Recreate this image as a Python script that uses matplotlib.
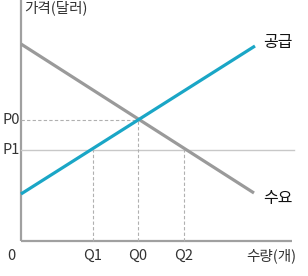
import matplotlib
matplotlib.use("Agg")
import matplotlib.pyplot as plt

plt.rcParams['font.family'] = ['Noto Sans CJK KR', 'DejaVu Sans']

# values in chart units (origin at the axes corner)
demand_q = [0, 233]
demand_p = [197, 48]
supply_q = [0, 234]
supply_p = [47, 195]
q_ticks = [72, 117, 163]
q_labels = ["Q1", "Q0", "Q2"]
p_levels = [121, 91]
p_labels = ["P0", "P1"]

AXIS_GRAY = "#a0a0a0"
LINE_GRAY = "#9a9a9a"
BLUE = "#1aa6c6"

fig = plt.figure(figsize=(3.08, 2.76), dpi=100)
ax = fig.add_axes([0, 0, 1, 1])
ax.set_xlim(-21, 287)
ax.set_ylim(-35, 241)
ax.axis("off")

# axes
ax.plot([0, 0], [0, 241], color=AXIS_GRAY, lw=1.6, solid_capstyle="butt")
ax.plot([0, 271], [0, 0], color=AXIS_GRAY, lw=1.6, solid_capstyle="butt")

# P1 solid light line across
ax.plot([0, 273], [p_levels[1], p_levels[1]], color="#c8c8c8", lw=1.0)
# P0 dashed line to equilibrium
ax.plot([0, q_ticks[1]], [p_levels[0], p_levels[0]], color="#b0b0b0", lw=0.8, ls=(0, (3, 2)))

# vertical guides
ax.plot([q_ticks[0]] * 2, [0, p_levels[1]], color="#b0b0b0", lw=0.8, ls=(0, (3, 2)))
ax.plot([q_ticks[1]] * 2, [0, p_levels[0]], color="#b0b0b0", lw=0.8, ls=(0, (3, 2)))
ax.plot([q_ticks[2]] * 2, [0, p_levels[1]], color="#b0b0b0", lw=0.8, ls=(0, (3, 2)))

# curves
ax.plot(demand_q, demand_p, color=LINE_GRAY, lw=2.3, solid_capstyle="butt")
ax.plot(supply_q, supply_p, color=BLUE, lw=2.3, solid_capstyle="butt")

# labels
tick_color = "#333333"
fs = 10.5
for q, lab in zip(q_ticks, q_labels):
    ax.text(q, -15, lab, ha="center", va="center", fontsize=fs, color=tick_color)
ax.text(-10, -15, "0", ha="center", va="center", fontsize=fs, color=tick_color)
for p, lab in zip(p_levels, p_labels):
    ax.text(-10, p, lab, ha="center", va="center", fontsize=fs, color=tick_color)
ax.text(250, -15, "수량(개)", ha="center", va="center", fontsize=fs, color=tick_color)
ax.text(3, 233, "가격(달러)", ha="left", va="center", fontsize=fs, color=tick_color)
ax.text(257, 199, "공급", ha="center", va="center", fontsize=11.5, color="#111111",
        fontweight="medium")
ax.text(257, 43, "수요", ha="center", va="center", fontsize=11.5, color="#111111",
        fontweight="medium")

fig.savefig("out.png", dpi=100)
